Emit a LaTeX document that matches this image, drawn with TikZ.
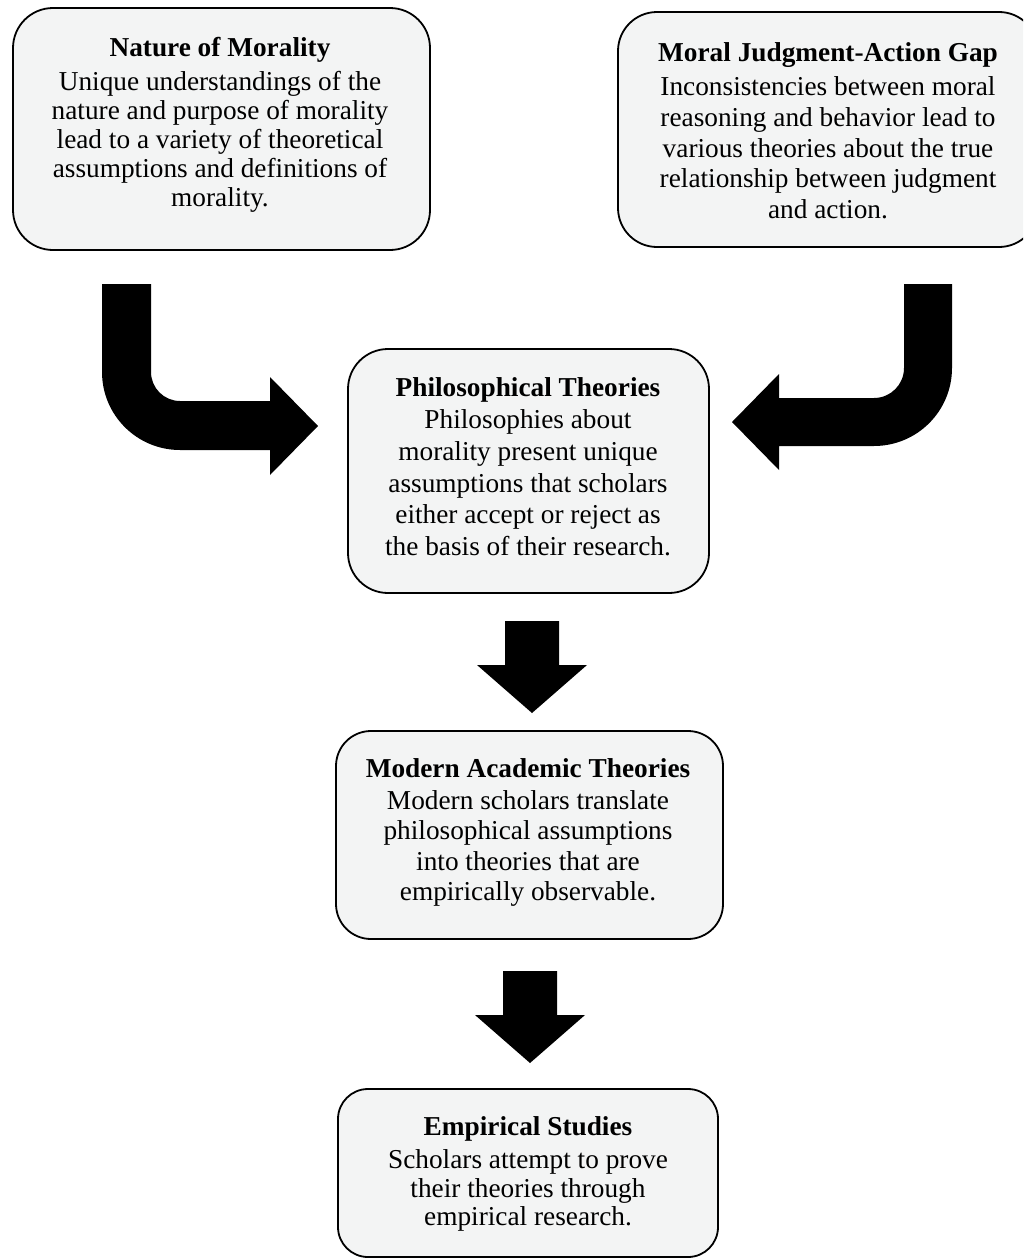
\documentclass[tikz,border=0pt]{standalone}
\usepackage{fontspec}
\setmainfont{Liberation Serif}
\definecolor{boxfill}{HTML}{F3F4F4}
\tikzset{
  flowbox/.style={draw=black, line width=1.8pt, fill=boxfill, rectangle, inner sep=0pt},
  flowtxt/.style={align=center, inner sep=0pt, anchor=north, text=black},
  blockarrow/.style={fill=black, draw=none}
}
\newcommand{\bfont}[1]{\fontsize{27.3}{#1}\selectfont}
\begin{document}
\begin{tikzpicture}[x=1pt, y=-1pt]
\useasboundingbox (0,0) rectangle (1023,1258);
\clip (0,0) rectangle (1023,1258);
% boxes
\node[flowbox, minimum width=417pt, minimum height=242pt, rounded corners=40pt] (b1) at (221.5,129) {};
\node[flowbox, minimum width=420pt, minimum height=235pt, rounded corners=39pt] (b2) at (828,129.5) {};
\node[flowbox, minimum width=361pt, minimum height=244pt, rounded corners=40pt] (b3) at (528.5,471) {};
\node[flowbox, minimum width=387pt, minimum height=208pt, rounded corners=35pt] (b4) at (529.5,835) {};
\node[flowbox, minimum width=380pt, minimum height=168pt, rounded corners=30pt] (b5) at (528,1173) {};
% texts
\node[flowtxt, font=\bfont{29.1}] (t1) at (220,36.8) {\textbf{Nature of Morality}\\[4.9pt]
Unique understandings of the\\ nature and purpose of morality\\ lead to a variety of theoretical\\ assumptions and definitions of\\ morality.};
\node[flowtxt, font=\bfont{30.75}] (t2) at (828,42.5) {\textbf{Moral Judgment-Action Gap}\\[3.25pt]
Inconsistencies between moral\\ reasoning and behavior lead to\\ various theories about the true\\ relationship between judgment\\ and action.};
\node[flowtxt, font=\bfont{31.75}] (t3) at (528,377.8) {\textbf{Philosophical Theories}\\
Philosophies about\\ morality present unique\\ assumptions that scholars\\ either accept or reject as\\ the basis of their research.};
\node[flowtxt, font=\bfont{30.3}] (t4) at (528,758.5) {\textbf{Modern Academic Theories}\\[1.7pt]
Modern scholars translate\\ philosophical assumptions\\ into theories that are\\ empirically observable.};
\node[flowtxt, font=\bfont{28.5}] (t5) at (528,1116.5) {\textbf{Empirical Studies}\\[4.5pt]
Scholars attempt to prove\\ their theories through\\ empirical research.};
% bent arrow from b1 to b3
\fill[blockarrow] (102,284) -- (151,284) -- (151,372)
  .. controls (151,388) and (164,401) .. (180,401) -- (270,401) -- (270,377)
  -- (318,426) -- (270,475) -- (270,450) -- (180,450)
  .. controls (136.9,450) and (102,415.1) .. (102,372) -- cycle;
% bent arrow from b2 to b3
\fill[blockarrow] (952,284) -- (904,284) -- (904,368)
  .. controls (904,384.6) and (890.6,398) .. (874,398) -- (779,398) -- (779,374)
  -- (732,422) -- (779,470) -- (779,446) -- (874,446)
  .. controls (917.1,446) and (952,411.1) .. (952,368) -- cycle;
% down arrow b3 -> b4
\fill[blockarrow] (505,621) -- (559,621) -- (559,665) -- (587,665) -- (532,713) -- (477,665) -- (505,665) -- cycle;
% down arrow b4 -> b5
\fill[blockarrow] (503,971) -- (557,971) -- (557,1015) -- (585,1015) -- (530,1063) -- (475,1015) -- (503,1015) -- cycle;
\end{tikzpicture}
\end{document}
